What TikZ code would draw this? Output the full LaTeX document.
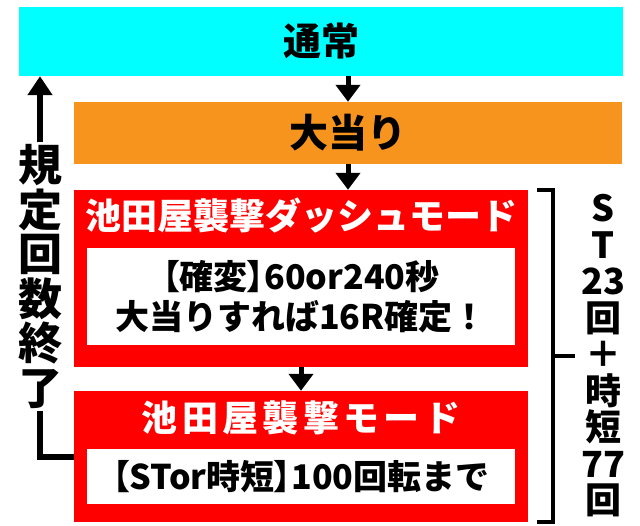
\documentclass[tikz,border=0pt]{standalone}
\usepackage{fontspec}
\setmainfont{Noto Sans CJK JP}
\usetikzlibrary{arrows.meta,calc}
\definecolor{normalcyan}{RGB}{0,255,255}
\definecolor{hitorange}{RGB}{247,148,30}
\definecolor{modered}{RGB}{255,0,0}
\newcommand{\lbrk}{{\addfontfeatures{RawFeature=+palt}【}}
\newcommand{\rbrk}{{\addfontfeatures{RawFeature=+palt}】}}
\tikzset{
	cyan box/.style={rectangle, draw=none, fill=normalcyan, inner sep=0,
		font=\bfseries\fontsize{38}{38}\selectfont},
	orange box/.style={rectangle, draw=none, fill=hitorange, inner sep=0,
		font=\bfseries\fontsize{39}{39}\selectfont},
	red box/.style={rectangle, draw=none, fill=modered, inner sep=0},
	title text/.style={text=white, inner sep=0, font=\bfseries\fontsize{36}{36}\selectfont},
	wide title/.style={title text,
		font=\bfseries\fontsize{36}{36}\selectfont\addfontfeatures{LetterSpace=12}},
	info box/.style={rectangle, draw=none, fill=white, inner sep=0, align=center,
		font=\bfseries\fontsize{34}{40}\selectfont},
	side text/.style={inner sep=2pt, align=center},
	flow arrow/.style={line width=5pt, -{Triangle[width=24pt,length=17pt]}},
	return line/.style={line width=6pt},
	bracket line/.style={line width=4.5pt},
}
\begin{document}
\begin{tikzpicture}[x=1pt, y=-1pt]
\useasboundingbox (0,0) rectangle (640,525);

\node[cyan box, minimum width=604pt, minimum height=69pt] (normal) at (321,41.5) {通常};
\node[orange box, minimum width=548pt, minimum height=62pt] (jackpot) at (348,133) {大当り};

\node[red box, minimum width=454pt, minimum height=177pt] (dash) at (301,278.5) {};
\node[title text] (dash title) at (301,216) {池田屋襲撃ダッシュモード};
\node[info box, minimum width=428pt, minimum height=97pt] (dash info) at (301,296.5)
	{\lbrk 確変\rbrk 60or240秒\\大当りすれば16R確定！};

\node[red box, minimum width=454pt, minimum height=131pt] (raid) at (301,456.5) {};
\node[wide title] (raid title) at (301,418) {池田屋襲撃モード};
\node[info box, minimum width=428pt, minimum height=55pt] (raid info) at (301,476.5)
	{\lbrk STor時短\rbrk 100回転まで};

\node[side text, font=\bfseries\fontsize{44}{44.5}\selectfont] (reset) at (40,276.5)
	{規\\定\\回\\数\\終\\了};
\node[side text, font=\bfseries\fontsize{36}{36.5}\selectfont] (st) at (603,356)
	{S\\T\\23\\回\\＋\\時\\短\\77\\回};

\draw[flow arrow] (normal.south -| jackpot.north) -- (jackpot.north);
\draw[flow arrow] (jackpot.south) -- (jackpot.south |- dash.north);
\draw[flow arrow] (dash.south) -- (raid.north);

\draw[return line, -{Triangle[width=24pt,length=19pt]}] (reset.north) -- (reset.north |- normal.south);
\draw[return line] (reset.south) |- (raid.west);

\coordinate (brace mid) at ($([xshift=25pt]dash.north east)!0.5!([xshift=25pt]raid.south east)$);
\coordinate (tick end) at ([xshift=22pt]brace mid);
\draw[bracket line] ([xshift=9pt]dash.north east) -- ([xshift=25pt]dash.north east)
	-- ([xshift=25pt]raid.south east) -- ([xshift=9pt]raid.south east);
\draw[bracket line] (brace mid) -- (tick end);
\end{tikzpicture}
\end{document}
